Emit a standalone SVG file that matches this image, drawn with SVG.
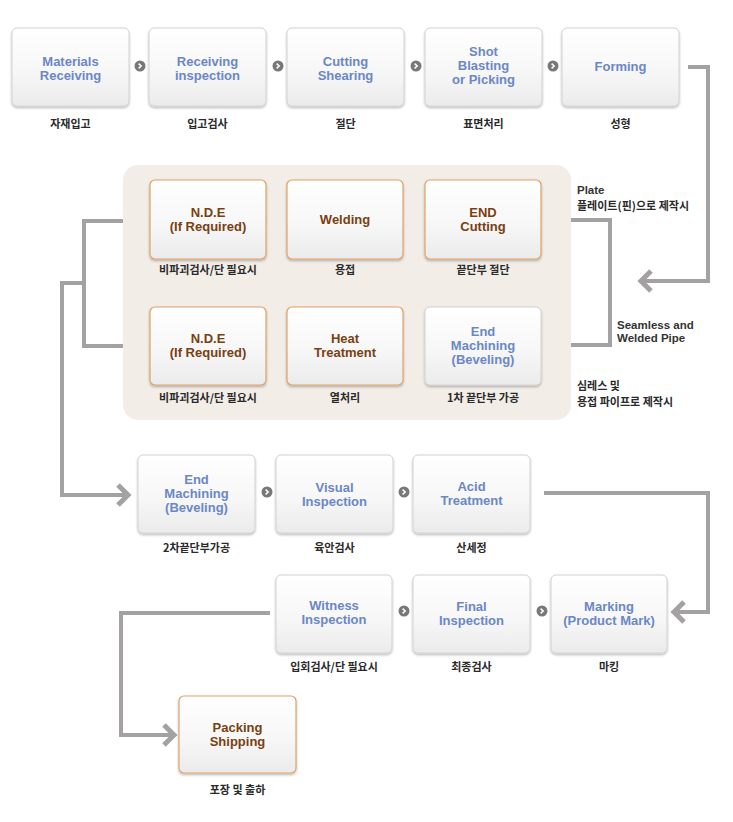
<svg xmlns="http://www.w3.org/2000/svg" width="733" height="822" viewBox="0 0 733 822">
<defs>
<linearGradient id="boxg" x1="0" y1="0" x2="0" y2="1">
<stop offset="0" stop-color="#ffffff"/>
<stop offset="0.55" stop-color="#f7f7f7"/>
<stop offset="1" stop-color="#ebebeb"/>
</linearGradient>
<filter id="sh" x="-10%" y="-10%" width="120%" height="125%">
<feDropShadow dx="0" dy="1.5" stdDeviation="1.2" flood-color="#000" flood-opacity="0.28"/>
</filter>
<g id="step">
<circle cx="0" cy="0" r="5.5" fill="#787878"/>
<path d="M-1.4 -2.4 L1.2 0 L-1.4 2.4" fill="none" stroke="#fff" stroke-width="1.5"/>
</g>
</defs>
<style>
.box{fill:url(#boxg);stroke:#d2d2d2;stroke-width:1;filter:url(#sh)}
.obox{fill:url(#boxg);stroke:#e2a266;stroke-width:1.2;filter:url(#sh)}
.en{font-family:"Liberation Sans",Arial,sans-serif;font-weight:bold;font-size:13px;text-anchor:middle}
.blue{fill:#6b87c6}
.brown{fill:#7a3f12}
.ko{font-family:"Noto Sans CJK KR","Noto Sans",sans-serif;font-weight:bold;font-size:11px;fill:#2a2a2a;text-anchor:middle}
.note{font-family:"Liberation Sans",Arial,sans-serif;font-weight:bold;font-size:11.5px;fill:#333}
.noteko{font-family:"Noto Sans CJK KR","Noto Sans",sans-serif;font-weight:bold;font-size:11px;fill:#2a2a2a}
.conn{fill:none;stroke:#a3a1a1;stroke-width:4}
.chev{fill:none;stroke:#a3a1a1;stroke-width:5;stroke-linejoin:miter}
</style>
<rect id="panel" x="123" y="165" width="448" height="255" rx="15" fill="#f3ede7"/>
<g id="connectors">
<path class="conn" d="M688 67 H708 V281 H643"/>
<path class="chev" d="M651 271 L641 281 L651 291"/>
<path class="conn" d="M571 220 H610 V345 H571"/>
<path class="conn" d="M123 221 H84 V346 H123"/>
<path class="conn" d="M84 283 H62 V495 H126"/>
<path class="chev" d="M118 485 L128 495 L118 505"/>
<path class="conn" d="M544 493 H708 V612 H678"/>
<path class="chev" d="M684 602 L674 612 L684 622"/>
<path class="conn" d="M270 613 H121 V735 H172"/>
<path class="chev" d="M164 725 L174 735 L164 745"/>
<use href="#step" x="140" y="66"/>
<use href="#step" x="278" y="66"/>
<use href="#step" x="416" y="66"/>
<use href="#step" x="553" y="66"/>
<use href="#step" x="267" y="492"/>
<use href="#step" x="404" y="492"/>
<use href="#step" x="404" y="611"/>
<use href="#step" x="542" y="611"/>
</g>
<g id="n-materials">
<rect class="box" x="12" y="28" width="117" height="78" rx="5"/>
<text class="en blue" x="70.5" y="65.5">Materials</text>
<text class="en blue" x="70.5" y="79.5">Receiving</text>
<text class="ko" x="70.5" y="128">자재입고</text>
</g>
<g id="n-receiving">
<rect class="box" x="149" y="28" width="117" height="78" rx="5"/>
<text class="en blue" x="207.5" y="65.5">Receiving</text>
<text class="en blue" x="207.5" y="79.5">inspection</text>
<text class="ko" x="207.5" y="128">입고검사</text>
</g>
<g id="n-cutting">
<rect class="box" x="287" y="28" width="117" height="78" rx="5"/>
<text class="en blue" x="345.5" y="65.5">Cutting</text>
<text class="en blue" x="345.5" y="79.5">Shearing</text>
<text class="ko" x="345.5" y="128">절단</text>
</g>
<g id="n-shot">
<rect class="box" x="425" y="28" width="117" height="78" rx="5"/>
<text class="en blue" x="483.5" y="56">Shot</text>
<text class="en blue" x="483.5" y="70">Blasting</text>
<text class="en blue" x="483.5" y="84">or Picking</text>
<text class="ko" x="483.5" y="128">표면처리</text>
</g>
<g id="n-forming">
<rect class="box" x="562" y="28" width="117" height="78" rx="5"/>
<text class="en blue" x="620.5" y="70.5">Forming</text>
<text class="ko" x="620.5" y="128">성형</text>
</g>
<g id="n-nde1">
<rect class="obox" x="150" y="180" width="116" height="79" rx="5"/>
<text class="en brown" x="208" y="216.5">N.D.E</text>
<text class="en brown" x="208" y="230.5">(If Required)</text>
<text class="ko" x="208" y="274">비파괴검사/단 필요시</text>
</g>
<g id="n-welding">
<rect class="obox" x="287" y="180" width="116" height="79" rx="5"/>
<text class="en brown" x="345" y="223.5">Welding</text>
<text class="ko" x="345" y="274">용접</text>
</g>
<g id="n-endcutting">
<rect class="obox" x="425" y="180" width="116" height="79" rx="5"/>
<text class="en brown" x="483" y="216.5">END</text>
<text class="en brown" x="483" y="230.5">Cutting</text>
<text class="ko" x="483" y="274">끝단부 절단</text>
</g>
<g id="n-nde2">
<rect class="obox" x="150" y="307" width="116" height="78" rx="5"/>
<text class="en brown" x="208" y="342.5">N.D.E</text>
<text class="en brown" x="208" y="356.5">(If Required)</text>
<text class="ko" x="208" y="402">비파괴검사/단 필요시</text>
</g>
<g id="n-heat">
<rect class="obox" x="287" y="307" width="116" height="78" rx="5"/>
<text class="en brown" x="345" y="342.5">Heat</text>
<text class="en brown" x="345" y="356.5">Treatment</text>
<text class="ko" x="345" y="402">열처리</text>
</g>
<g id="n-endmach1">
<rect class="box" x="425" y="307" width="116" height="78" rx="5"/>
<text class="en blue" x="483" y="335.5">End</text>
<text class="en blue" x="483" y="349.5">Machining</text>
<text class="en blue" x="483" y="363.5">(Beveling)</text>
<text class="ko" x="483" y="402">1차 끝단부 가공</text>
</g>
<g id="notes">
<text class="note" x="577" y="194">Plate</text>
<text class="noteko" x="577" y="210">플레이트(핀)으로 제작시</text>
<text class="note" x="617" y="329">Seamless and</text>
<text class="note" x="617" y="342">Welded Pipe</text>
<text class="noteko" x="577" y="390">심레스 및</text>
<text class="noteko" x="577" y="406">용접 파이프로 제작시</text>
</g>
<g id="n-endmach2">
<rect class="box" x="138" y="455" width="117" height="78" rx="5"/>
<text class="en blue" x="196.5" y="484">End</text>
<text class="en blue" x="196.5" y="498">Machining</text>
<text class="en blue" x="196.5" y="512">(Beveling)</text>
<text class="ko" x="196.5" y="552">2차끝단부가공</text>
</g>
<g id="n-visual">
<rect class="box" x="276" y="455" width="117" height="78" rx="5"/>
<text class="en blue" x="334.5" y="491.5">Visual</text>
<text class="en blue" x="334.5" y="505.5">Inspection</text>
<text class="ko" x="334.5" y="552">육안검사</text>
</g>
<g id="n-acid">
<rect class="box" x="413" y="455" width="117" height="78" rx="5"/>
<text class="en blue" x="471.5" y="490.5">Acid</text>
<text class="en blue" x="471.5" y="504.5">Treatment</text>
<text class="ko" x="471.5" y="552">산세정</text>
</g>
<g id="n-witness">
<rect class="box" x="276" y="575" width="116" height="78" rx="5"/>
<text class="en blue" x="334" y="609.5">Witness</text>
<text class="en blue" x="334" y="623.5">Inspection</text>
<text class="ko" x="334" y="671">입회검사/단 필요시</text>
</g>
<g id="n-final">
<rect class="box" x="413" y="575" width="117" height="78" rx="5"/>
<text class="en blue" x="471.5" y="610.5">Final</text>
<text class="en blue" x="471.5" y="624.5">Inspection</text>
<text class="ko" x="471.5" y="671">최종검사</text>
</g>
<g id="n-marking">
<rect class="box" x="551" y="575" width="116" height="78" rx="5"/>
<text class="en blue" x="609" y="610.5">Marking</text>
<text class="en blue" x="609" y="624.5">(Product Mark)</text>
<text class="ko" x="609" y="671">마킹</text>
</g>
<g id="n-packing">
<rect class="obox" x="179" y="696" width="117" height="77" rx="5"/>
<text class="en brown" x="237.5" y="731.5">Packing</text>
<text class="en brown" x="237.5" y="745.5">Shipping</text>
<text class="ko" x="237.5" y="794">포장 및 출하</text>
</g>
</svg>
